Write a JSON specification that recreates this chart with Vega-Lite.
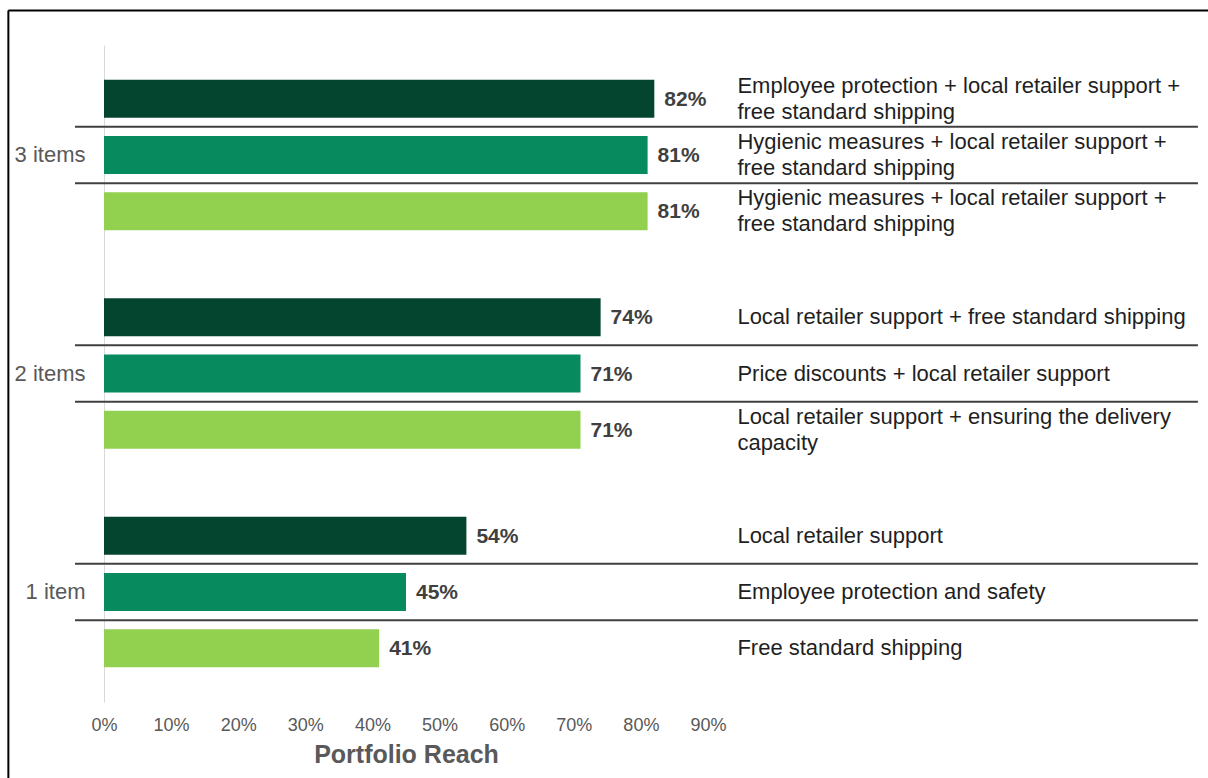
{
  "$schema": "https://vega.github.io/schema/vega-lite/v6.json",
  "autosize": {"type": "none"},
  "padding": {"left": 104, "top": 45, "right": 500, "bottom": 76},
  "width": 604,
  "height": 657,
  "background": "white",
  "config": {"font": "Liberation Sans", "view": {"stroke": null}},
  "data": {"values": [
    {"group": "3 items", "rank": 1, "value": 0.82, "label": "Employee protection + local retailer support +\nfree standard shipping"},
    {"group": "3 items", "rank": 2, "value": 0.81, "label": "Hygienic measures + local retailer support +\nfree standard shipping"},
    {"group": "3 items", "rank": 3, "value": 0.81, "label": "Hygienic measures + local retailer support +\nfree standard shipping"},
    {"group": "2 items", "rank": 1, "value": 0.74, "label": "Local retailer support + free standard shipping"},
    {"group": "2 items", "rank": 2, "value": 0.71, "label": "Price discounts + local retailer support"},
    {"group": "2 items", "rank": 3, "value": 0.71, "label": "Local retailer support + ensuring the delivery\ncapacity"},
    {"group": "1 item", "rank": 1, "value": 0.54, "label": "Local retailer support"},
    {"group": "1 item", "rank": 2, "value": 0.45, "label": "Employee protection and safety"},
    {"group": "1 item", "rank": 3, "value": 0.41, "label": "Free standard shipping"}
  ]},
  "layer": [
    {
      "data": {"values": [{}]},
      "layer": [
        {
          "mark": {"type": "rule", "color": "#000000", "strokeWidth": 2},
          "encoding": {
            "x": {"datum": -0.1425, "type": "quantitative"},
            "x2": {"datum": 1.66},
            "y": {"datum": 1.0525, "type": "quantitative", "scale": {"domain": [0, 1]}, "axis": null}
          }
        },
        {
          "mark": {"type": "rule", "color": "#000000", "strokeWidth": 2},
          "encoding": {
            "x": {"datum": -0.1425, "type": "quantitative"},
            "y": {"datum": 1.0525, "type": "quantitative", "scale": {"domain": [0, 1]}, "axis": null},
            "y2": {"datum": -0.13}
          }
        }
      ]
    },
    {
      "encoding": {
        "y": {
          "field": "group", "type": "nominal",
          "sort": ["3 items", "2 items", "1 item"],
          "scale": {"paddingInner": 0.2265, "paddingOuter": 0.1167},
          "axis": {
            "title": null, "ticks": false, "domain": true, "domainColor": "#d9d9d9", "domainWidth": 1,
            "labelFontSize": 22, "labelColor": "#595959", "labelPadding": 19, "labelFont": "Liberation Sans"
          }
        }
      },
      "layer": [
        {
          "mark": {"type": "bar"},
          "encoding": {
            "x": {
              "field": "value", "type": "quantitative",
              "scale": {"domain": [0, 0.9]},
              "axis": {
                "values": [0, 0.1, 0.2, 0.3, 0.4, 0.5, 0.6, 0.7, 0.8, 0.9],
                "format": ".0%", "grid": false, "domain": false, "ticks": false, "tickSize": 0,
                "labelFlush": false, "labelOverlap": false,
                "labelFontSize": 18, "labelColor": "#595959", "labelPadding": 14,
                "title": "Portfolio Reach", "titleFontSize": 25, "titleFontWeight": "bold",
                "titleColor": "#595959", "titlePadding": 8
              }
            },
            "yOffset": {"field": "rank", "type": "ordinal", "scale": {"paddingInner": 0.325, "paddingOuter": 0.1625}},
            "color": {
              "field": "rank", "type": "ordinal",
              "scale": {"domain": [1, 2, 3], "range": ["#03452F", "#068A5E", "#92D050"]},
              "legend": null
            }
          }
        },
        {
          "mark": {"type": "text", "align": "left", "baseline": "middle", "dx": 10, "dy": 1, "fontSize": 21, "fontWeight": "bold", "color": "#404040"},
          "encoding": {
            "x": {"field": "value", "type": "quantitative"},
            "yOffset": {"field": "rank", "type": "ordinal"},
            "text": {"field": "value", "type": "quantitative", "format": ".0%"}
          }
        },
        {
          "transform": [{"filter": {"not": {"field": "label", "oneOf": [
            "Employee protection + local retailer support +\nfree standard shipping",
            "Hygienic measures + local retailer support +\nfree standard shipping",
            "Local retailer support + ensuring the delivery\ncapacity"
          ]}}}],
          "mark": {"type": "text", "align": "left", "baseline": "middle", "fontSize": 22, "color": "#1f1f1f"},
          "encoding": {
            "x": {"datum": 0.9438, "type": "quantitative"},
            "yOffset": {"field": "rank", "type": "ordinal"},
            "text": {"field": "label", "type": "nominal"}
          }
        },
        {
          "transform": [{"filter": {"field": "label", "oneOf": [
            "Employee protection + local retailer support +\nfree standard shipping",
            "Hygienic measures + local retailer support +\nfree standard shipping",
            "Local retailer support + ensuring the delivery\ncapacity"
          ]}}],
          "mark": {"type": "text", "align": "left", "baseline": "middle", "dy": -13, "fontSize": 22, "lineHeight": 26, "lineBreak": "\n", "color": "#1f1f1f"},
          "encoding": {
            "x": {"datum": 0.9438, "type": "quantitative"},
            "yOffset": {"field": "rank", "type": "ordinal"},
            "text": {"field": "label", "type": "nominal"}
          }
        },
        {
          "transform": [{"filter": "datum.rank == 1"}],
          "mark": {"type": "rule", "color": "#404040", "strokeWidth": 2},
          "encoding": {
            "y": {"field": "group", "type": "nominal", "sort": ["3 items", "2 items", "1 item"], "bandPosition": 0.33333},
            "x": {"datum": -0.0432, "type": "quantitative"},
            "x2": {"datum": 1.63}
          }
        },
        {
          "transform": [{"filter": "datum.rank == 2"}],
          "mark": {"type": "rule", "color": "#404040", "strokeWidth": 2},
          "encoding": {
            "y": {"field": "group", "type": "nominal", "sort": ["3 items", "2 items", "1 item"], "bandPosition": 0.66667},
            "x": {"datum": -0.0432, "type": "quantitative"},
            "x2": {"datum": 1.63}
          }
        }
      ]
    }
  ],
  "resolve": {"scale": {"y": "independent"}}
}
